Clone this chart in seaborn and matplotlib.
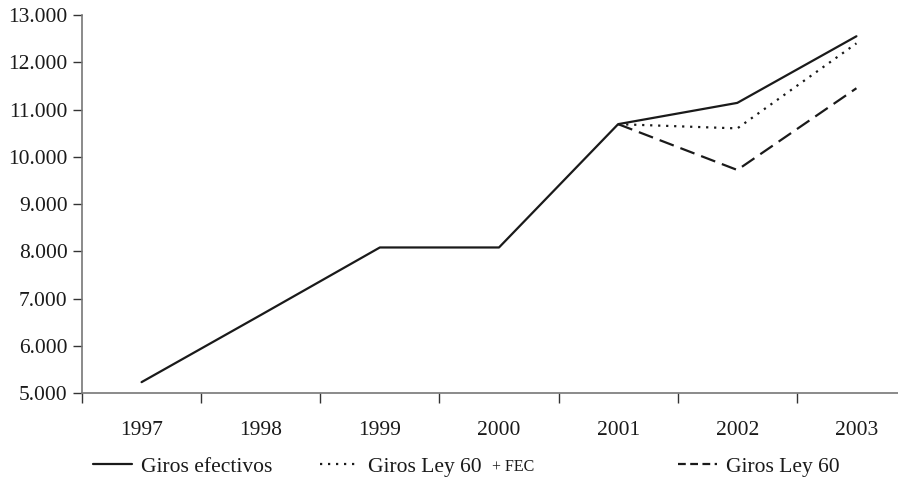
import matplotlib
matplotlib.use("Agg")
import matplotlib.pyplot as plt
import matplotlib.ticker as mticker
from matplotlib.lines import Line2D
import seaborn as sns
import pandas as pd

years = ["1997", "1998", "1999", "2000", "2001", "2002", "2003"]
giros_efectivos = [5230, 6650, 8080, 8080, 10690, 11140, 12550]
ley60_fec_years = ["2001", "2002", "2003"]
ley60_fec = [10690, 10600, 12400]
ley60_years = ["2001", "2002", "2003"]
ley60 = [10690, 9720, 11450]
yticks = [5000, 6000, 7000, 8000, 9000, 10000, 11000, 12000, 13000]

sns.set_theme(style="white")
plt.rcParams['font.family'] = ['Liberation Serif', 'DejaVu Serif']

FS = 15.5
W, H = 898, 487
fig = plt.figure(figsize=(W / 100, H / 100), dpi=100)
ax = fig.add_axes([82 / W, (H - 393) / H, (916 - 82) / W, (393 - 15) / H])

pos = {y: i for i, y in enumerate(years)}
df1 = pd.DataFrame({"x": [pos[y] for y in years], "v": giros_efectivos})
df2 = pd.DataFrame({"x": [pos[y] for y in ley60_fec_years], "v": ley60_fec})
df3 = pd.DataFrame({"x": [pos[y] for y in ley60_years], "v": ley60})

lw = 1.6
sns.lineplot(data=df1, x="x", y="v", ax=ax, color="#1a1a1a", lw=lw, zorder=3)
sns.lineplot(data=df2, x="x", y="v", ax=ax, color="#1a1a1a", lw=lw,
             linestyle=(0, (1, 2.6)), zorder=2)
sns.lineplot(data=df3, x="x", y="v", ax=ax, color="#1a1a1a", lw=lw,
             linestyle=(0, (6.8, 3.2)), zorder=2)

ax.set_xlim(-0.5, len(years) - 0.5)
ax.set_ylim(yticks[0], yticks[-1])
ax.set_xlabel("")
ax.set_ylabel("")

ax.set_xticks(range(len(years)))
ax.set_xticklabels(years)
ax.set_xticks([i - 0.5 for i in range(len(years) + 1)], minor=True)
ax.set_yticks(yticks)
ax.yaxis.set_major_formatter(mticker.FuncFormatter(lambda v, p: f"{int(v):,}".replace(",", ".")))

for s in ["top", "right"]:
    ax.spines[s].set_visible(False)
for s in ["left", "bottom"]:
    ax.spines[s].set_color("#777777")
    ax.spines[s].set_linewidth(1.2)

ax.tick_params(axis="x", which="major", length=0, pad=20, labelsize=FS, labelcolor="#1a1a1a")
ax.tick_params(axis="x", which="minor", length=7, width=1.0, color="#333333", direction="out", bottom=True)
ax.tick_params(axis="y", which="major", length=6.5, width=1.0, color="#333333", direction="out",
               left=True, pad=4, labelsize=FS, labelcolor="#1a1a1a")

ly = 1 - 467 / H
common = dict(loc="center left", frameon=False, borderpad=0, borderaxespad=0,
              handlelength=1.8, handletextpad=0.45, fontsize=FS, labelcolor="#1a1a1a")
h1 = Line2D([], [], color="#1a1a1a", lw=lw)
h2 = Line2D([], [], color="#1a1a1a", lw=lw, linestyle=(0, (1, 2.6)))
h3 = Line2D([], [], color="#1a1a1a", lw=lw, linestyle=(0, (3.5, 2.0)))
lg1 = fig.legend([h1], ["Giros efectivos"], bbox_to_anchor=(93 / W, ly), **common)
lg2 = fig.legend([h2], ["Giros Ley 60"], bbox_to_anchor=(320 / W, ly), **common)
lg3 = fig.legend([h3], ["Giros Ley 60"], bbox_to_anchor=(678 / W, ly), **common)

fig.canvas.draw()
t = lg2.get_texts()[0]
bb = t.get_window_extent().transformed(fig.transFigure.inverted())
fig.text(bb.x1 + 10 / W, ly, "+ FEC", fontsize=11.5, va="center", ha="left", color="#1a1a1a")

fig.savefig("out.png", dpi=100)
